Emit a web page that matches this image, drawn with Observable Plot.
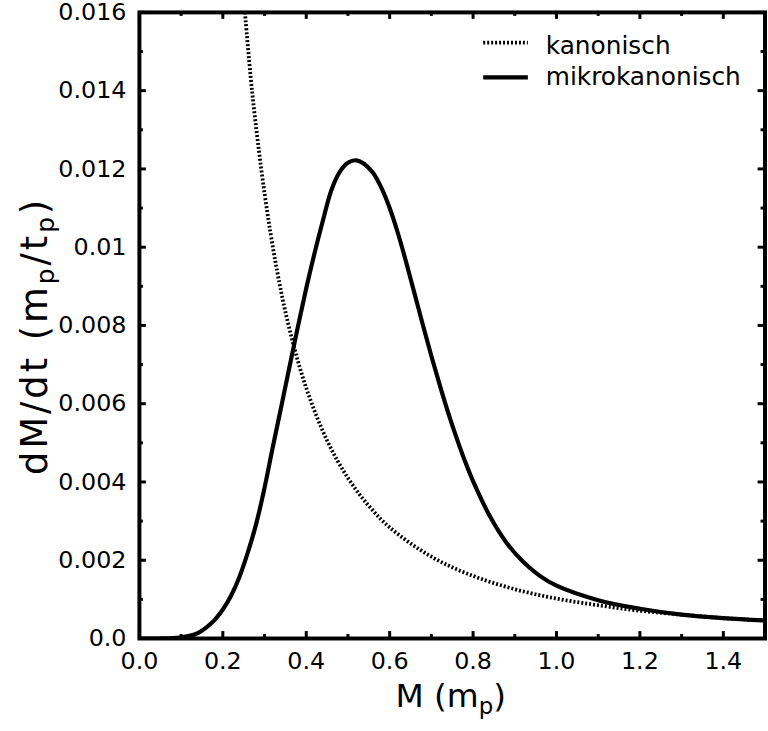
<!DOCTYPE html>
<html>
<head>
<meta charset="utf-8">
<script src="https://cdn.jsdelivr.net/npm/d3@7"></script>
<script src="https://cdn.jsdelivr.net/npm/@observablehq/plot@0.6"></script>
<style>
  html, body { margin: 0; padding: 0; background: #fff; overflow: hidden; }
  #chart { width: 768px; height: 731px; overflow: hidden; }
</style>
</head>
<body>
<div id="chart"></div>
<script>
// Canonical mass loss rate dM/dt versus black-hole mass M (Planck units)
const canonicalMass = [0.25, 0.27, 0.30, 0.33, 0.36, 0.40, 0.45, 0.50, 0.55, 0.60, 0.70, 0.80, 0.90, 1.00, 1.10, 1.20, 1.30, 1.40, 1.50];
const canonicalRate = [0.0164, 0.0140, 0.01138, 0.0094, 0.0079, 0.0064, 0.00506, 0.0041, 0.00339, 0.00284, 0.00209, 0.0016, 0.00126, 0.00102, 0.00085, 0.00071, 0.00061, 0.00052, 0.00046];

// Microcanonical mass loss rate
const microMass = [0.00, 0.05, 0.08, 0.10, 0.12, 0.14, 0.16, 0.18, 0.20, 0.22, 0.24, 0.26, 0.28, 0.30, 0.32, 0.34, 0.36, 0.38, 0.40, 0.42, 0.44, 0.46, 0.48, 0.50, 0.52, 0.54, 0.56, 0.58, 0.60, 0.62, 0.64, 0.66, 0.68, 0.70, 0.72, 0.74, 0.76, 0.78, 0.80, 0.84, 0.88, 0.92, 0.96, 1.00, 1.10, 1.20, 1.30, 1.40, 1.50];
const microRate = [0, 0.000001, 0.00001, 0.00003, 0.00007, 0.00014, 0.00028, 0.00047, 0.00074, 0.0011, 0.00158, 0.0022, 0.00293, 0.00385, 0.0049, 0.00592, 0.00695, 0.00797, 0.00895, 0.00985, 0.01068, 0.01145, 0.01192, 0.01216, 0.01222, 0.01212, 0.0119, 0.01152, 0.011, 0.01035, 0.0096, 0.0088, 0.008, 0.00722, 0.00648, 0.00578, 0.00514, 0.00455, 0.00402, 0.00313, 0.00245, 0.00196, 0.0016, 0.00135, 0.00098, 0.00076, 0.00061, 0.00052, 0.00046];

const seriesNames = ["kanonisch", "mikrokanonisch"];

const xTickValues = [0, 0.2, 0.4, 0.6, 0.8, 1.0, 1.2, 1.4];
const xTickLabels = ["0.0", "0.2", "0.4", "0.6", "0.8", "1.0", "1.2", "1.4"];
const xMinorTicks = [0.1, 0.3, 0.5, 0.7, 0.9, 1.1, 1.3, 1.5];
const yTickValues = [0, 0.002, 0.004, 0.006, 0.008, 0.010, 0.012, 0.014, 0.016];
const yTickLabels = ["0.0", "0.002", "0.004", "0.006", "0.008", "0.01", "0.012", "0.014", "0.016"];
const yMinorTicks = [0.001, 0.003, 0.005, 0.007, 0.009, 0.011, 0.013, 0.015];

const canonical = canonicalMass.map((m, i) => ({M: m, rate: canonicalRate[i]}));
const micro = microMass.map((m, i) => ({M: m, rate: microRate[i]}));

// Layout: the frame's right edge sits just past the visible window
const W = 774, H = 731;
const mL = 140, mR = 3.5, mT = 12, mB = 88;
const innerW = W - mL - mR, innerH = H - mT - mB;
const majorLen = 7, minorLen = 4;
const FONT = "DejaVu Sans";
const dotted = "2,2";

const plot = Plot.plot({
  width: W, height: H,
  marginLeft: mL, marginRight: mR, marginTop: mT, marginBottom: mB,
  style: {fontFamily: FONT, fontSize: "24px", color: "#000", background: "#fff"},
  x: {domain: [0, 1.5], label: null},
  y: {domain: [0, 0.016], label: null},
  marks: [
    Plot.line(canonical, {x: "M", y: "rate", stroke: "#000", strokeWidth: 3.8, strokeDasharray: dotted, strokeLinecap: "butt", curve: "catmull-rom", clip: true}),
    Plot.line(micro, {x: "M", y: "rate", stroke: "#000", strokeWidth: 4.2, curve: "catmull-rom", clip: true}),
    // inward ticks on all four sides
    Plot.tickY(yTickValues, {y: d => d, insetRight: innerW - majorLen, strokeWidth: 3}),
    Plot.tickY(yTickValues, {y: d => d, insetLeft: innerW - majorLen, strokeWidth: 3}),
    Plot.tickY(yMinorTicks, {y: d => d, insetRight: innerW - minorLen, strokeWidth: 3}),
    Plot.tickY(yMinorTicks, {y: d => d, insetLeft: innerW - minorLen, strokeWidth: 3}),
    Plot.tickX(xTickValues, {x: d => d, insetTop: innerH - majorLen, strokeWidth: 3}),
    Plot.tickX(xTickValues, {x: d => d, insetBottom: innerH - majorLen, strokeWidth: 3}),
    Plot.tickX(xMinorTicks, {x: d => d, insetTop: innerH - minorLen, strokeWidth: 3}),
    Plot.tickX(xMinorTicks, {x: d => d, insetBottom: innerH - minorLen, strokeWidth: 3}),
    Plot.axisX(xTickValues, {tickSize: 0, tickPadding: 14, tickFormat: d => xTickLabels[xTickValues.indexOf(d)], fontSize: 24}),
    Plot.axisY(yTickValues, {tickSize: 0, tickPadding: 13, tickFormat: d => yTickLabels[yTickValues.indexOf(d)], fontSize: 24}),
    Plot.frame({stroke: "#000", strokeWidth: 4})
  ]
});

document.getElementById("chart").appendChild(plot);

const svg = d3.select(plot);
const xs = plot.scale("x"), ys = plot.scale("y");

// Axis titles with subscripts
const xTitle = svg.append("text")
  .attr("x", (xs.range[0] + xs.range[1]) / 2 - 1)
  .attr("y", 713)
  .attr("text-anchor", "middle")
  .attr("font-family", FONT).attr("font-size", 33).attr("fill", "#000");
xTitle.append("tspan").text("M (m");
xTitle.append("tspan").attr("font-size", 23).attr("dy", 7).text("p");
xTitle.append("tspan").attr("dy", -7).text(")");

const yMid = (ys.range[0] + ys.range[1]) / 2 + 11;
const yTitle = svg.append("text")
  .attr("transform", `translate(47,${yMid}) rotate(-90)`)
  .attr("text-anchor", "middle")
  .attr("letter-spacing", 3)
  .attr("font-family", FONT).attr("font-size", 37).attr("fill", "#000");
yTitle.append("tspan").text("dM/dt (m");
yTitle.append("tspan").attr("font-size", 25).attr("dy", 7).text("p");
yTitle.append("tspan").attr("dy", -7).text("/t");
yTitle.append("tspan").attr("font-size", 25).attr("dy", 7).text("p");
yTitle.append("tspan").attr("dy", -7).text(")");

// Legend in the upper right corner of the frame
const legendRows = [
  {name: seriesNames[0], width: 3.8, dash: dotted, y: 43, base: 54},
  {name: seriesNames[1], width: 4.2, dash: null, y: 78, base: 86}
];
const legend = svg.append("g")
  .attr("font-family", FONT).attr("font-size", 25).attr("text-anchor", "start");
legendRows.forEach(r => {
  legend.append("line")
    .attr("x1", 487).attr("x2", 532).attr("y1", r.y).attr("y2", r.y)
    .attr("stroke", "#000").attr("stroke-width", r.width)
    .attr("stroke-dasharray", r.dash);
  legend.append("text")
    .attr("x", 550).attr("y", r.base)
    .attr("fill", "#000").text(r.name);
});
</script>
</body>
</html>
